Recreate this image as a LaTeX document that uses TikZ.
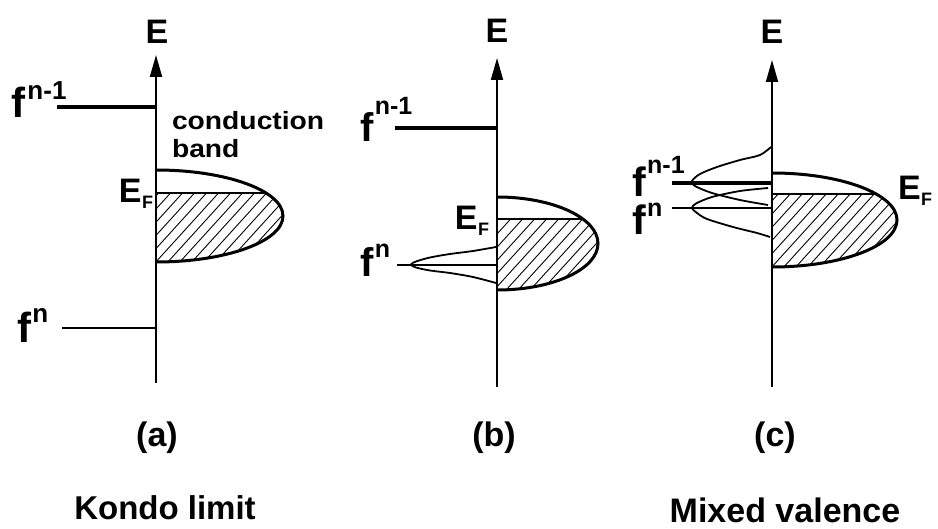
\documentclass[tikz,border=0pt]{standalone}
\usepackage{fontspec}
\setmainfont{Liberation Sans}
\usetikzlibrary{arrows.meta}
\newcommand{\fsz}[1]{\fontsize{#1}{#1}\selectfont}
\newcommand{\flbl}[4]{\fsz{#1}f\kern1.5pt\raisebox{#3pt}{\fsz{#2}#4}}
\newcommand{\EFlbl}{\fsz{34}E\kern0.5pt\raisebox{-6pt}{\fsz{18}F}}
\begin{document}
\begin{tikzpicture}[x=1pt,y=-1pt,font=\bfseries,
  axis/.style={line width=1.8pt,-{Triangle[length=22pt,width=12pt]}},
  lvlthick/.style={line width=4pt},
  lvlthin/.style={line width=2.3pt},
  bandline/.style={line width=3pt},
  fermi/.style={line width=1.6pt},
  hatchline/.style={line width=0.9pt},
  lor/.style={line width=1.8pt},
  lbl/.style={inner sep=0pt,outer sep=0pt}]
\useasboundingbox (0,0) rectangle (938,529);
\fill[white] (0,0) rectangle (938,529);

% ---------- panel (a) ----------
\coordinate (a0) at (156,383);
\coordinate (a1) at (156,55);
\draw[axis] (a0) -- (a1);
\node[lbl] (aE) at (157,32) {\fsz{34}E};
\coordinate (aU0) at (57,107); \coordinate (aU1) at (156,107);
\draw[lvlthick] (aU0) -- (aU1);
\coordinate (aD0) at (62,328); \coordinate (aD1) at (156,328);
\draw[lvlthin] (aD0) -- (aD1);
\node[lbl,anchor=base west] (afu) at (12,118) {\flbl{42}{26}{18}{n-1}};
\node[lbl,anchor=base west] (afd) at (17,343) {\flbl{42}{26}{20}{n}};
\node[lbl,anchor=base west] (cond1) at (172,130) {\scalebox{1.13}[1]{\fsz{25}conduction}};
\node[lbl,anchor=base west] (cond2) at (172,158) {\scalebox{1.13}[1]{\fsz{25}band}};
\begin{scope}
  \clip (156,216) ellipse [x radius=127, y radius=46];
  \clip (156,193) rectangle (300,280);
  \foreach \k in {-12,...,22} \draw[hatchline] (156+\k*12,275) -- ++(110,-121);
\end{scope}
\begin{scope}
  \clip (156,150) rectangle (300,280);
  \draw[bandline] (156,216) ellipse [x radius=127, y radius=46];
\end{scope}
\coordinate (aF0) at (156,193); \coordinate (aF1) at (266,193);
\draw[fermi] (aF0) -- (aF1);
\node[lbl,anchor=base east] (aEF) at (153,203) {\EFlbl};
\node[lbl] (alab) at (157,438) {\fsz{34}(a)};
\node[lbl] (kondo) at (165,508) {\fsz{33}Kondo limit};

% ---------- panel (b) ----------
\coordinate (b0) at (497,387);
\coordinate (b1) at (497,58);
\draw[axis] (b0) -- (b1);
\node[lbl] (bE) at (497,31) {\fsz{34}E};
\coordinate (bU0) at (395,128); \coordinate (bU1) at (497,128);
\draw[lvlthick] (bU0) -- (bU1);
\coordinate (bD0) at (397,265); \coordinate (bD1) at (497,265);
\draw[lvlthin] (bD0) -- (bD1);
\node[lbl,anchor=base west] (bfu) at (360,142) {\flbl{40}{25}{27}{n-1}};
\node[lbl,anchor=base west] (bfd) at (360,277) {\flbl{40}{25}{19}{n}};
\begin{scope}
  \clip (497,243.5) ellipse [x radius=101, y radius=46.5];
  \clip (497,219) rectangle (610,300);
  \foreach \k in {-12,...,20} \draw[hatchline] (497+\k*12,300) -- ++(110,-121);
\end{scope}
\begin{scope}
  \clip (497,180) rectangle (610,300);
  \draw[bandline] (497,243.5) ellipse [x radius=101, y radius=46.5];
\end{scope}
\coordinate (bF0) at (497,219); \coordinate (bF1) at (583,219);
\draw[fermi] (bF0) -- (bF1);
\node[lbl,anchor=base east] (bEF) at (489,230) {\EFlbl};
\draw[lor] plot[smooth] coordinates {(496,247) (473,251) (450,254) (430,257.5) (416,261.5) (411,264.5) (416,267.5) (430,270.5) (450,273) (473,277) (496,283)};
\node[lbl] (blab) at (494,438) {\fsz{34}(b)};

% ---------- panel (c) ----------
\coordinate (c0) at (772,387);
\coordinate (c1) at (772,60);
\draw[axis] (c0) -- (c1);
\node[lbl] (cE) at (772,32) {\fsz{34}E};
\begin{scope}
  \clip (772,220) ellipse [x radius=125, y radius=47];
  \clip (772,194) rectangle (900,280);
  \foreach \k in {-12,...,22} \draw[hatchline] (772+\k*12,280) -- ++(110,-121);
\end{scope}
\begin{scope}
  \clip (772,160) rectangle (910,280);
  \draw[bandline] (772,220) ellipse [x radius=125, y radius=47];
\end{scope}
\coordinate (cF0) at (772,194); \coordinate (cF1) at (876,194);
\draw[fermi] (cF0) -- (cF1);
\node[lbl,anchor=base west] (cEF) at (898,200) {\EFlbl};
\coordinate (cU0) at (672,183); \coordinate (cU1) at (772,183);
\draw[lvlthick] (cU0) -- (cU1);
\coordinate (cD0) at (672,208); \coordinate (cD1) at (772,208);
\draw[lvlthin] (cD0) -- (cD1);
\draw[lor] plot[smooth] coordinates {(771,147) (760,155) (740,160) (717,167) (700,174) (692,181) (695,186) (712,193) (740,200) (768,205)};
\draw[lor] plot[smooth] coordinates {(768,188) (740,191) (712,197) (696,203.5) (692,208) (697,213) (707,219) (733,227) (757,233) (770,237)};
\node[lbl,anchor=base west] (cfu) at (632,197) {\flbl{41}{25}{23}{n-1}};
\node[lbl,anchor=base west] (cfd) at (632,235) {\flbl{41}{25}{18}{n}};
\node[lbl] (clab) at (775,438) {\fsz{34}(c)};
\node[lbl] (mixed) at (785,510) {\fsz{34}Mixed valence};
\end{tikzpicture}
\end{document}
